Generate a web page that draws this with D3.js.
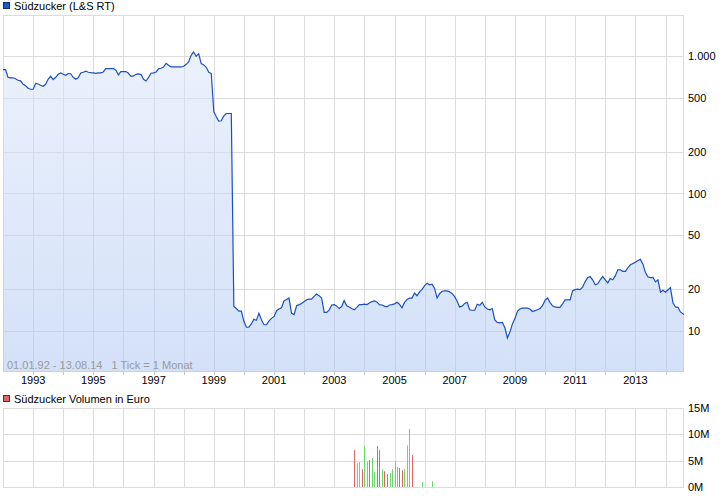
<!DOCTYPE html>
<html><head><meta charset="utf-8">
<script src="https://cdn.jsdelivr.net/npm/d3@7"></script>
<style>
body{margin:0;background:#fff;}
svg text{font-family:"Liberation Sans",Arial,sans-serif;font-size:11px;fill:#000;}
</style></head>
<body><svg id="c" width="726" height="496"></svg>
<script>
// ---- data ----
const titleMain = "Südzucker (L&S RT)";
const titleVol = "Südzucker Volumen in Euro";
const rangeText = "01.01.92 - 13.08.14   1 Tick = 1 Monat";
const startDate = "1992-01-01";
const endDate = "2014-08-13";
// monthly closing prices, Jan 1992 .. Jul 2014, plus last value on 13.08.14
const prices = [
 800,800,703,697,697,686,669,663,625,610,585,575,575,
 637,628,615,605,625,680,715,677,703,739,756,739,
 727,749,746,703,680,697,756,765,778,765,761,758,
 752,756,758,769,814,814,814,814,791,731,774,774,
 774,752,715,719,739,744,736,680,661,703,752,758,
 769,811,818,836,889,860,836,836,836,836,836,846,
 874,909,1017,1075,1000,1046,885,866,832,765,749,394,
 362,337,339,366,383,383,383,15.0,14.5,13.9,13.9,11.7,
 10.6,10.6,11.2,12.1,11.9,13.4,12.0,11.05,11.05,11.8,12.3,12.7,
 14.0,14.4,14.7,16.5,16.9,17.3,13.4,13.1,15.2,15.5,15.8,16.3,
 16.8,17.0,17.0,17.8,18.5,18.0,17.3,13.6,13.6,14.2,15.4,15.5,
 15.1,14.5,15.0,16.6,15.2,14.9,14.5,14.2,14.8,15.5,15.5,15.6,
 15.5,15.9,16.3,16.5,16.2,15.5,15.4,15.1,14.9,15.4,15.5,15.7,
 16.1,15.6,14.7,16.0,16.9,17.3,17.3,18.8,18.0,19.2,20.0,21.3,
 22.2,21.6,21.8,20.4,17.3,18.6,19.4,19.5,19.5,19.2,18.6,17.7,
 16.3,14.9,15.1,15.8,16.1,14.2,14.1,14.1,15.6,15.3,16.1,14.9,
 14.4,14.2,14.5,12.0,11.5,11.4,11.5,10.5,8.85,9.8,11.2,12.3,
 13.9,14.4,14.6,14.6,14.6,14.4,13.8,14.0,14.2,14.5,15.2,16.7,
 17.3,16.1,15.2,14.9,14.8,14.8,15.7,16.8,16.8,16.8,19.6,19.9,
 20.1,19.9,20.8,22.7,24.3,24.8,23.5,21.6,22.0,23.5,24.8,23.5,
 22.3,24.0,23.5,25.1,27.8,27.8,27.1,27.1,28.7,30.2,30.9,31.6,
 32.5,33.1,30.7,26.7,24.7,24.4,24.5,22.7,23.5,19.1,19.7,19.1,
 19.9,20.6,16.0,14.9,14.8,13.7,13.1
];
const priceTicks = [10,20,50,100,200,500,1000];
const priceTickLabels = ["10","20","50","100","200","500","1.000"];
const volMonths = ["2003-09","2003-10","2003-11","2003-12","2004-01","2004-02","2004-03","2004-04","2004-05","2004-06","2004-07","2004-08","2004-09","2004-10","2004-11","2004-12","2005-01","2005-02","2005-03","2005-04","2005-05","2005-06","2005-07","2005-08","2005-12","2006-04"];
const volValues = [7.0,4.5,4.7,3.4,7.75,4.8,5.1,5.5,2.85,7.75,7.0,3.4,3.0,2.45,2.65,3.4,4.9,3.8,3.6,3.2,3.4,7.9,11.0,6.05,0.95,1.1]; // millions
const volUp = [0,1,1,0,1,1,0,1,1,0,0,1,0,0,1,1,1,1,0,0,1,1,1,0,1,1];
const volTicks = [0,5,10,15];
const volTickLabels = ["0M","5M","10M","15M"];

// ---- drawing ----
const svg = d3.select("#c");
const parse = d3.timeParse("%Y-%m-%d");
const t0 = parse(startDate), t1 = parse(endDate);
const dates = d3.timeMonth.range(t0, d3.timeMonth.floor(t1)).concat([t1]);
const series = prices.map((v,i)=>({d:dates[i], v}));

const L=3, R=684, T=15, B=372;
const x = d3.scaleTime().domain([t0,t1]).range([L,R]);
const y = d3.scaleLog().domain([5,2000]).range([B,T]);
const yearTicks = d3.timeYear.range(d3.timeYear.ceil(t0), t1).filter(d=>d>t0);
const gridCol = "#dcdcdc";

// legend main
svg.append("rect").attr("x",3.5).attr("y",2.5).attr("width",6).attr("height",6)
  .attr("fill","#1d56c7").attr("stroke","#0d2f78");
svg.append("text").attr("x",14).attr("y",10).text(titleMain);

// grid main
const g = svg.append("g");
g.append("rect").attr("x",L+0.5).attr("y",T+0.5).attr("width",R-L-1).attr("height",B-T-1)
  .attr("fill","none").attr("stroke",gridCol);
g.selectAll("line.v").data(yearTicks).join("line")
  .attr("x1",d=>Math.round(x(d))+0.5).attr("x2",d=>Math.round(x(d))+0.5)
  .attr("y1",T).attr("y2",B).attr("stroke",gridCol);
g.selectAll("line.h").data(priceTicks).join("line")
  .attr("x1",L).attr("x2",R).attr("y1",d=>Math.round(y(d))+0.5).attr("y2",d=>Math.round(y(d))+0.5)
  .attr("stroke",gridCol);
g.selectAll("line.tk").data(yearTicks).join("line")
  .attr("x1",d=>Math.round(x(d))+0.5).attr("x2",d=>Math.round(x(d))+0.5)
  .attr("y1",B).attr("y2",B+3).attr("stroke","#c8c8c8");

// gradient fill
const defs = svg.append("defs");
const grad = defs.append("linearGradient").attr("id","gf").attr("gradientUnits","userSpaceOnUse")
  .attr("x1",0).attr("y1",T).attr("x2",0).attr("y2",B);
grad.append("stop").attr("offset","0").attr("stop-color","rgb(224,233,251)");
grad.append("stop").attr("offset","1").attr("stop-color","rgb(175,200,242)");
svg.append("path").datum(series)
  .attr("d", d3.area().x(d=>x(d.d)).y0(B).y1(d=>y(d.v)))
  .attr("fill","url(#gf)").attr("fill-opacity",0.55);
svg.append("path").datum(series)
  .attr("d", d3.line().x(d=>x(d.d)).y(d=>y(d.v)))
  .attr("fill","none").attr("stroke","#1a50c0").attr("stroke-width",1.2);

// y labels
svg.selectAll("text.yl").data(priceTicks).join("text")
  .attr("x",688).attr("y",d=>y(d)+4).text((d,i)=>priceTickLabels[i]);
// x labels
svg.selectAll("text.xl").data(yearTicks.filter(d=>d.getFullYear()%2===1)).join("text")
  .attr("x",d=>x(d)).attr("y",384).attr("text-anchor","middle")
  .text(d=>d3.timeFormat("%Y")(d));
// range text
svg.append("text").attr("x",7).attr("y",369).style("fill","#9a9a9a")
  .style("white-space","pre").attr("xml:space","preserve").text(rangeText);

// ---- volume ----
const VT=408, VB=487;
const yv = d3.scaleLinear().domain([0,15]).range([VB,VT]);
svg.append("rect").attr("x",3.5).attr("y",395.5).attr("width",6).attr("height",6)
  .attr("fill","#e06666").attr("stroke","#7a2020");
svg.append("text").attr("x",14).attr("y",403).text(titleVol);
const gv = svg.append("g");
gv.selectAll("line.v").data(yearTicks).join("line")
  .attr("x1",d=>Math.round(x(d))+0.5).attr("x2",d=>Math.round(x(d))+0.5)
  .attr("y1",VT).attr("y2",VB).attr("stroke",gridCol);
gv.selectAll("line.h").data(volTicks).join("line")
  .attr("x1",L).attr("x2",R).attr("y1",d=>Math.round(yv(d))+0.5).attr("y2",d=>Math.round(yv(d))+0.5)
  .attr("stroke",gridCol);
gv.append("line").attr("x1",L+0.5).attr("x2",L+0.5).attr("y1",VT).attr("y2",VB).attr("stroke",gridCol);
gv.append("line").attr("x1",R-0.5).attr("x2",R-0.5).attr("y1",VT).attr("y2",VB).attr("stroke",gridCol);
const pm = d3.timeParse("%Y-%m");
gv.selectAll("rect.bar").data(volValues).join("rect")
  .attr("x",(d,i)=>Math.round(x(pm(volMonths[i]))))
  .attr("width",1)
  .attr("y",d=>yv(d)).attr("height",d=>VB-yv(d))
  .attr("fill",(d,i)=>volUp[i]?"#66d966":"#e06666");
svg.selectAll("text.vl").data(volTicks).join("text")
  .attr("x",688).attr("y",d=>yv(d)+4).text((d,i)=>volTickLabels[i]);
</script></body></html>
